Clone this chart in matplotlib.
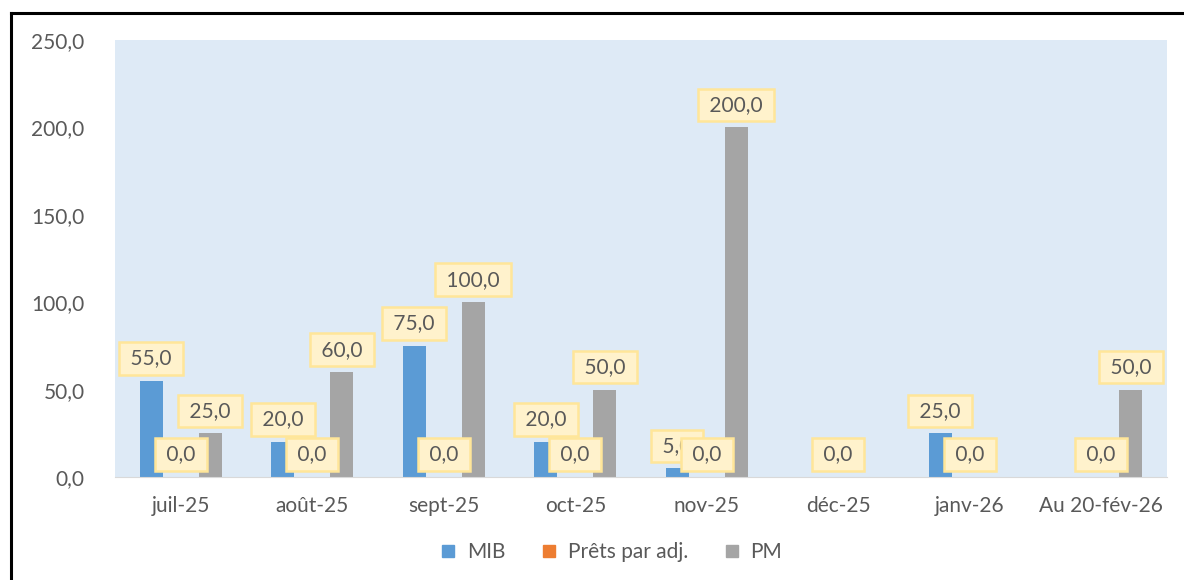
import numpy as np
import matplotlib.pyplot as plt
from matplotlib.lines import Line2D

plt.rcParams['font.family'] = ['Lato', 'DejaVu Sans']

categories = ['juil-25', 'août-25', 'sept-25', 'oct-25', 'nov-25', 'déc-25', 'janv-26', 'Au 20-fév-26']
mib = [55.0, 20.0, 75.0, 20.0, 5.0, np.nan, 25.0, np.nan]
prets = [0.0, 0.0, 0.0, 0.0, 0.0, 0.0, 0.0, 0.0]
pm = [25.0, 60.0, 100.0, 50.0, 200.0, np.nan, np.nan, 50.0]
series_names = ['MIB', 'Prêts par adj.', 'PM']
colors = ['#5B9BD5', '#ED7D31', '#A5A5A5']

txt = '#595959'

fig = plt.figure(figsize=(11.84, 5.8), dpi=100)
ax = fig.add_axes([115 / 1184, 1 - 477 / 580, 1052 / 1184, 437 / 580])
ax.set_facecolor('#DEEAF6')

x = np.arange(len(categories))
offset = 0.224
width = 0.175
data = [mib, prets, pm]
for i, (vals, col) in enumerate(zip(data, colors)):
    pos = x + (i - 1) * offset
    ax.bar(pos, vals, width, color=col, zorder=2)
    for p, v in zip(pos, vals):
        if np.isnan(v):
            continue
        lab = ' ' + f'{v:.1f}'.replace('.', ',') + ' '
        ax.annotate(lab, (p, v), xytext=(0, 9),
                    textcoords='offset points', ha='center', va='bottom',
                    fontsize=15, color=txt, zorder=3,
                    bbox=dict(boxstyle='square,pad=0.3', fc='#FFF2CC',
                              ec='#FFE699', lw=1.8))

ax.set_xlim(-0.5, len(categories) - 0.5)
ax.set_ylim(0, 250)
ax.set_yticks(np.arange(0, 251, 50))
ax.set_yticklabels([f'{t:.1f}'.replace('.', ',') for t in np.arange(0, 251, 50)])
ax.set_xticks(x)
ax.set_xticklabels(categories)
ax.tick_params(axis='both', length=0, labelsize=15, labelcolor=txt)
ax.tick_params(axis='y', pad=22)
ax.tick_params(axis='x', pad=14)
for s in ['top', 'right', 'left']:
    ax.spines[s].set_visible(False)
ax.spines['bottom'].set_color('#D9D9D9')
ax.spines['bottom'].set_zorder(4)

handles = [Line2D([], [], marker='s', ls='', color=c, markersize=8) for c in colors]
fig.legend(handles, series_names, loc='center', bbox_to_anchor=(610 / 1184, 1 - 552 / 580),
           ncol=3, frameon=False, fontsize=15, labelcolor=txt,
           handletextpad=0.4, columnspacing=1.6, handlelength=1.0)

# chart border (top and left visible)
fig.add_artist(Line2D([11 / 1184, 1.01], [1 - 13 / 580, 1 - 13 / 580], color='black', lw=2.2,
                      transform=fig.transFigure))
fig.add_artist(Line2D([11 / 1184, 11 / 1184], [-0.01, 1 - 13 / 580], color='black', lw=2.2,
                      transform=fig.transFigure))

fig.savefig('out.png', dpi=100)
